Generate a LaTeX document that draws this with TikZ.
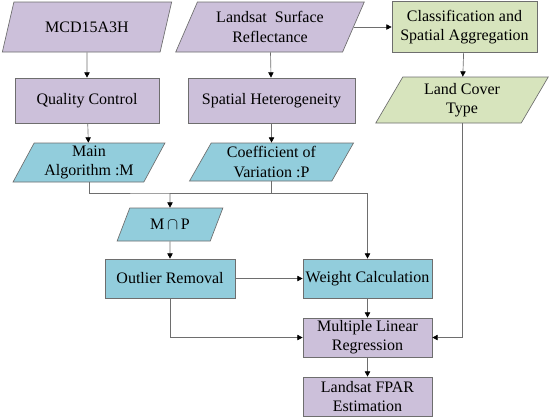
\documentclass[tikz,border=0pt]{standalone}
\usepackage{fontspec}
\setmainfont{Liberation Serif}
\usepackage{xcolor}
\usepackage{tikz}
\usetikzlibrary{arrows.meta,positioning,calc,shapes.geometric}

\definecolor{lav}{RGB}{204,192,218}
\definecolor{aqua}{RGB}{146,205,220}
\definecolor{olive}{RGB}{215,228,189}
\definecolor{edge}{RGB}{110,110,110}

\begin{document}
\begin{tikzpicture}[
  x=0.6pt, y=-0.6pt,
  font=\rmfamily\fontsize{9.6}{11.5}\selectfont,
  proc/.style={draw=edge, align=center, inner sep=1pt},
  data/.style={draw=edge, trapezium, trapezium left angle=64, trapezium right angle=116,
    trapezium stretches=true, align=center, inner sep=1pt},
  flow/.style={-{Triangle[length=3.2pt, width=3.2pt, color=black]}, draw=edge},
  link/.style={draw=edge}
]
\useasboundingbox (0,0) rectangle (550,418);

% inputs
\node[data, fill=lav, minimum width=170*0.6pt, minimum height=50*0.6pt] (modis) at (87,27) {MCD15A3H};
\node[data, fill=lav, minimum width=190*0.6pt, minimum height=50*0.6pt] (refl) at (270,27) {Landsat~~Surface\\Reflectance};
\node[proc, fill=olive, minimum width=145*0.6pt, minimum height=51*0.6pt] (classif) at (464.5,27) {Classification and\\Spatial Aggregation};

% second row
\node[proc, fill=lav, minimum width=144*0.6pt, minimum height=45*0.6pt] (quality) at (87,100.5) {Quality Control};
\node[proc, fill=lav, minimum width=167*0.6pt, minimum height=45*0.6pt] (hetero) at (271.5,100.5) {Spatial Heterogeneity};
\node[data, fill=olive, minimum width=173*0.6pt, minimum height=46*0.6pt] (cover) at (462,100) {Land Cover\\Type};

% third row
\node[data, fill=aqua, minimum width=153*0.6pt, minimum height=39*0.6pt] (mainalg) at (89,162.5) {Main\\Algorithm :M};
\node[data, fill=aqua, minimum width=165*0.6pt, minimum height=38*0.6pt] (coef) at (271.5,162) {Coefficient of\\Variation :P};

% merge and processing
\node[data, fill=aqua, minimum width=106*0.6pt, minimum height=33*0.6pt] (inter) at (170,224.5) {M\,$\cap$\,P};
\node[proc, fill=aqua, minimum width=130*0.6pt, minimum height=39*0.6pt] (outlier) at (170,278.5) {Outlier Removal};
\node[proc, fill=aqua, minimum width=129*0.6pt, minimum height=39*0.6pt] (weight) at (367.5,278.5) {Weight Calculation};
\node[proc, fill=lav, minimum width=129*0.6pt, minimum height=39*0.6pt] (mlr) at (367.5,337.5) {Multiple Linear\\Regression};
\node[proc, fill=lav, minimum width=129*0.6pt, minimum height=39*0.6pt] (fpar) at (367.5,396.5) {Landsat FPAR\\Estimation};

\coordinate (join) at (170,193);

\draw[flow] (modis) -- (quality);
\draw[flow] (refl) -- (hetero);
\draw[flow] (refl) -- (classif);
\draw[flow] (classif) -- (cover);
\draw[flow] (quality) -- (mainalg);
\draw[flow] (hetero) -- (coef);
\draw[link] (mainalg.south) |- (join) -| (coef.south);
\draw[flow] (join) -| (weight.north);
\draw[flow] (join) -- (inter);
\draw[flow] (inter) -- (outlier);
\draw[flow] (outlier) -- (weight);
\draw[flow] (outlier.south) |- (mlr.west);
\draw[flow] (weight) -- (mlr);
\draw[flow] (cover.south) |- (mlr.east);
\draw[flow] (mlr) -- (fpar);
\end{tikzpicture}
\end{document}
